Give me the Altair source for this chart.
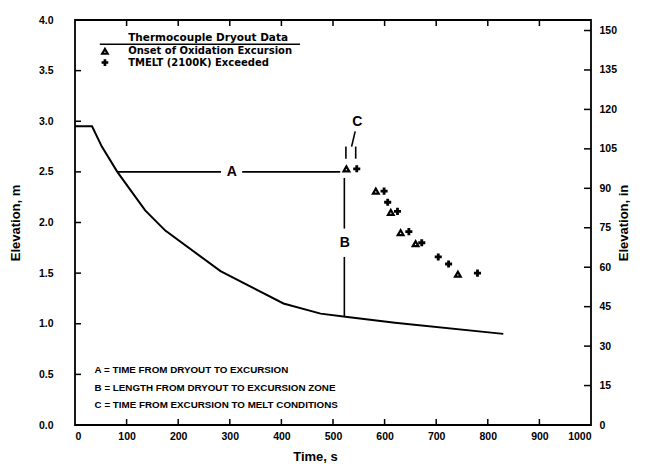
import altair as alt
import pandas as pd

# ---- data ----
curve_t = [0, 33, 52, 82, 136, 175, 282, 404, 476, 524, 620, 830]
curve_e = [2.95, 2.95, 2.75, 2.5, 2.12, 1.92, 1.52, 1.2, 1.1, 1.07, 1.01, 0.9]

onset_t = [526, 583, 612, 631, 660, 742]
onset_e = [2.53, 2.31, 2.1, 1.9, 1.79, 1.49]

melt_t = [546, 599, 606, 625, 647, 672, 704, 724, 780]
melt_e = [2.53, 2.31, 2.2, 2.11, 1.91, 1.8, 1.66, 1.59, 1.5]

# annotation segments: (t1, e1, t2, e2)
seg_t1 = [82, 324, 522, 522, 525, 544, 536, 48]
seg_e1 = [2.5, 2.5, 2.44, 1.66, 2.75, 2.75, 2.75, 3.76]
seg_t2 = [283, 514, 522, 522, 525, 544, 543, 436]
seg_e2 = [2.5, 2.5, 1.94, 1.07, 2.63, 2.63, 2.9, 3.76]

big_labels = ["A", "B", "C"]
big_t = [304, 523, 547]
big_e = [2.5, 1.8, 2.99]

legend_text = ["Onset of Oxidation Excursion", "TMELT (2100K) Exceeded"]
legend_title = "Thermocouple Dryout Data"

notes = ["A = TIME FROM DRYOUT TO EXCURSION",
         "B = LENGTH FROM DRYOUT TO EXCURSION ZONE",
         "C = TIME FROM EXCURSION TO MELT CONDITIONS"]
notes_e = [0.54, 0.37, 0.2]

x_ticks = [0, 100, 200, 300, 400, 500, 600, 700, 800, 900, 1000]
ym_ticks = [0.0, 0.5, 1.0, 1.5, 2.0, 2.5, 3.0, 3.5, 4.0]
yin_ticks = [0, 15, 30, 45, 60, 75, 90, 105, 120, 135, 150]

W, H = 516, 405
FONT = "Liberation Sans"
LFONT = "DejaVu Sans"

curve = pd.DataFrame({"t": curve_t, "e": curve_e})
onset = pd.DataFrame({"t": onset_t, "e": onset_e})
melt = pd.DataFrame({"t": melt_t, "e": melt_e})
segs = pd.DataFrame({"t1": seg_t1, "e1": seg_e1, "t2": seg_t2, "e2": seg_e2})
bigs = pd.DataFrame({"lab": big_labels, "t": big_t, "e": big_e})
notes_df = pd.DataFrame({"lab": notes, "t": [38] * 3, "e": notes_e})
leg_tri = pd.DataFrame({"t": [58], "e": [3.69]})
leg_plus = pd.DataFrame({"t": [58], "e": [3.58]})
leg_txt = pd.DataFrame({"lab": legend_text, "t": [103, 103], "e": [3.69, 3.58]})
leg_head = pd.DataFrame({"lab": [legend_title], "t": [103], "e": [3.825]})

xs = alt.Scale(domain=[0, 1000], nice=False)
ys = alt.Scale(domain=[0, 4], nice=False)

x_enc = alt.X("t:Q", scale=xs, axis=alt.Axis(
    values=x_ticks, format="d", title="Time, s", ticks=False, tickSize=0, domain=False,
    grid=False, labelPadding=6, titlePadding=9, titleX=240, titleAlign="center"))
y_enc = alt.Y("e:Q", scale=ys, axis=alt.Axis(
    values=ym_ticks, format=".1f", title="Elevation, m", ticks=False, tickSize=0,
    domain=False, grid=False, labelPadding=22, titlePadding=16))

line = alt.Chart(curve).mark_line(color="black", strokeWidth=2).encode(x=x_enc, y=y_enc)

rules = alt.Chart(segs).mark_rule(color="black", strokeWidth=1.6).encode(
    x=alt.X("t1:Q", scale=xs), x2="t2:Q",
    y=alt.Y("e1:Q", scale=ys), y2="e2:Q")

tri = alt.Chart(onset).mark_point(shape="triangle-up", color="black", filled=False,
                                  strokeWidth=2.2, size=32, opacity=1).encode(
    x=alt.X("t:Q", scale=xs), y=alt.Y("e:Q", scale=ys))
plus = alt.Chart(melt).mark_point(shape="cross", color="black", filled=True,
                                  size=50, opacity=1).encode(
    x=alt.X("t:Q", scale=xs), y=alt.Y("e:Q", scale=ys))

big_txt = alt.Chart(bigs).mark_text(font=FONT, fontWeight="bold", fontSize=14,
                                    color="black").encode(
    x=alt.X("t:Q", scale=xs), y=alt.Y("e:Q", scale=ys), text="lab:N")

notes_txt = alt.Chart(notes_df).mark_text(font=FONT, fontWeight="bold", fontSize=9.8,
                                          align="left", color="black").encode(
    x=alt.X("t:Q", scale=xs), y=alt.Y("e:Q", scale=ys), text="lab:N")

ltri = alt.Chart(leg_tri).mark_point(shape="triangle-up", color="black", filled=False,
                                     strokeWidth=2.2, size=30, opacity=1).encode(
    x=alt.X("t:Q", scale=xs), y=alt.Y("e:Q", scale=ys))
lplus = alt.Chart(leg_plus).mark_point(shape="cross", color="black", filled=True,
                                       size=45, opacity=1).encode(
    x=alt.X("t:Q", scale=xs), y=alt.Y("e:Q", scale=ys))
ltxt = alt.Chart(leg_txt).mark_text(font=LFONT, fontWeight="bold", fontSize=10,
                                    align="left", color="black").encode(
    x=alt.X("t:Q", scale=xs), y=alt.Y("e:Q", scale=ys), text="lab:N")
lhead = alt.Chart(leg_head).mark_text(font=LFONT, fontWeight="bold", fontSize=10.5,
                                      align="left", color="black").encode(
    x=alt.X("t:Q", scale=xs), y=alt.Y("e:Q", scale=ys), text="lab:N")

# inward ticks
bt = alt.Chart(pd.DataFrame({"t": x_ticks[1:-1]})).mark_rule(color="black", strokeWidth=1.5).encode(
    x=alt.X("t:Q", scale=xs), y=alt.value(H), y2=alt.value(H - 6))
tt = alt.Chart(pd.DataFrame({"t": x_ticks[1:-1]})).mark_rule(color="black", strokeWidth=1.5).encode(
    x=alt.X("t:Q", scale=xs), y=alt.value(0), y2=alt.value(6))
lt = alt.Chart(pd.DataFrame({"e": ym_ticks[1:-1]})).mark_rule(color="black", strokeWidth=1.5).encode(
    y=alt.Y("e:Q", scale=ys), x=alt.value(0), x2=alt.value(6))

left = alt.layer(line, rules, tri, plus, big_txt, notes_txt, ltri, lplus, ltxt, lhead, bt, tt, lt)

yin = pd.DataFrame({"v": yin_ticks[1:]})
right = alt.Chart(yin).mark_rule(color="black", strokeWidth=1.5).encode(
    y=alt.Y("v:Q", scale=alt.Scale(domain=[0, 154], nice=False),
            axis=alt.Axis(orient="right", values=yin_ticks, title="Elevation, in",
                          ticks=False, tickSize=0, domain=False, grid=False,
                          labelPadding=8, titlePadding=14, titleAngle=270)),
    x=alt.value(W), x2=alt.value(W - 7))

chart = alt.layer(left, right).resolve_scale(y="independent").properties(
    width=W, height=H,
    autosize=alt.AutoSizeParams(type="none"),
    padding={"left": 75, "top": 20, "right": 63, "bottom": 40},
    background="white",
).configure_view(stroke="black", strokeWidth=1.8).configure_axis(
    labelFont=FONT, labelFontWeight="bold", labelFontSize=10.5, labelColor="black",
    titleFont=FONT, titleFontWeight="bold", titleFontSize=13, titleColor="black",
)

chart.save("out.html", embed_options={"renderer": "svg", "actions": False})
